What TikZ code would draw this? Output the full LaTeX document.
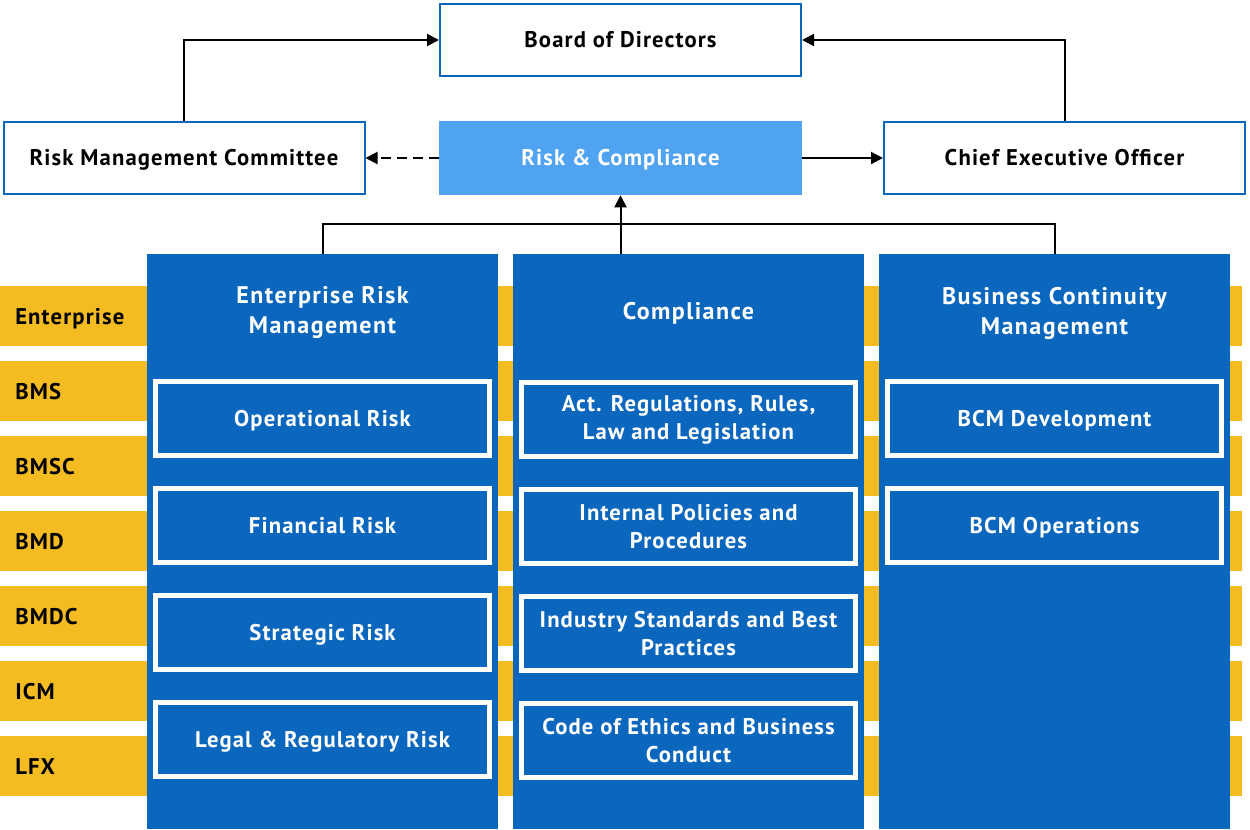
\documentclass[tikz,border=0pt]{standalone}
\usepackage{fontspec}
\setmainfont{PT Sans}
\usetikzlibrary{arrows.meta}
\definecolor{dblue}{RGB}{11,103,189}
\definecolor{lblue}{RGB}{79,163,240}
\definecolor{yel}{RGB}{245,188,34}
\begin{document}
\begin{tikzpicture}[x=0.75pt,y=-0.75pt,
  lab/.style={font=\bfseries\fontsize{17pt}{21pt}\selectfont\addfontfeature{LetterSpace=5}},
  oneline/.style={text height=11.9pt,text depth=0pt},
  topbox/.style={lab,oneline,draw=dblue,line width=1.5pt,fill=white,text=black,
    minimum width=270.75pt,minimum height=54pt,inner sep=0pt},
  rcbox/.style={lab,oneline,fill=lblue,text=white,minimum width=272.25pt,
    minimum height=55.5pt,inner sep=0pt},
  colbox/.style={fill=dblue,minimum width=263.25pt,minimum height=431.25pt,inner sep=0pt},
  colhead/.style={font=\bfseries\fontsize{18pt}{22.5pt}\selectfont\addfontfeature{LetterSpace=6},
    text=white,align=center},
  subbox/.style={lab,draw=white,line width=3.75pt,fill=dblue,text=white,align=center,
    minimum width=250.5pt,minimum height=55.5pt,inner sep=0pt},
  subone/.style={subbox,oneline},
  band/.style={fill=yel},
  bandlab/.style={lab,text=black,anchor=base west,inner sep=0pt},
  arr/.style={line width=1.5pt,-{Triangle[length=9pt,width=9pt]}},
  darr/.style={arr,dash pattern=on 7.5pt off 4.5pt}
]
\useasboundingbox (0,0) rectangle (1250,829);
% bands
\foreach \k in {0,...,6} {
  \fill[band] (0,{286+75*\k}) rectangle (1242,{346+75*\k});
}
\node[bandlab] (lent) at (15,324.5) {Enterprise};
\node[bandlab] (lbms) at (15,399.5) {BMS};
\node[bandlab] (lbmsc) at (15,474.5) {BMSC};
\node[bandlab] (lbmd) at (15,549.5) {BMD};
\node[bandlab] (lbmdc) at (15,624.5) {BMDC};
\node[bandlab] (licm) at (15,699.5) {ICM};
\node[bandlab] (llfx) at (15,774.5) {LFX};
% top boxes
\node[topbox] (board) at (620.5,40) {Board of Directors};
\node[topbox] (rmc) at (184,158) {Risk Management Committee};
\node[topbox] (ceo) at (1064.5,158) {Chief Executive Officer};
\node[rcbox] (rc) at (620.5,158) {Risk \& Compliance};
% columns
\node[colbox] (erm) at (322.5,541.5) {};
\node[colbox] (comp) at (688.5,541.5) {};
\node[colbox] (bcm) at (1054.5,541.5) {};
\node[colhead] (ermh) at (322.5,313) {Enterprise Risk\\Management};
\node[colhead] (comph) at (688.5,313) {Compliance};
\node[colhead] (bcmh) at (1054.5,313) {Business Continuity\\Management};
% sub boxes
\node[subone] (op) at (322.5,418.5) {Operational Risk};
\node[subone] (fin) at (322.5,525.5) {Financial Risk};
\node[subone] (str) at (322.5,632.5) {Strategic Risk};
\node[subone] (leg) at (322.5,739.5) {Legal \& Regulatory Risk};
\node[subbox] (act) at (688.5,419.5) {Act. Regulations, Rules,\\Law and Legislation};
\node[subbox] (pol) at (688.5,526.5) {Internal Policies and\\Procedures};
\node[subbox] (ind) at (688.5,633.5) {Industry Standards and Best\\Practices};
\node[subbox] (eth) at (688.5,740.5) {Code of Ethics and Business\\Conduct};
\node[subone] (dev) at (1054.5,418.5) {BCM Development};
\node[subone] (ops) at (1054.5,525.5) {BCM Operations};
% connectors
\coordinate (j) at (621,224);
\draw[arr] (rmc.north) |- (board.west);
\draw[arr] (ceo.north) |- (board.east);
\draw[darr] (rc.west) -- (rmc.east);
\draw[arr] (rc.east) -- (ceo.west);
\draw[line width=1.5pt] (erm.north) |- (j) -| (bcm.north);
\draw[arr] (comp.north -| rc.south) -- (rc.south);
\end{tikzpicture}
\end{document}
